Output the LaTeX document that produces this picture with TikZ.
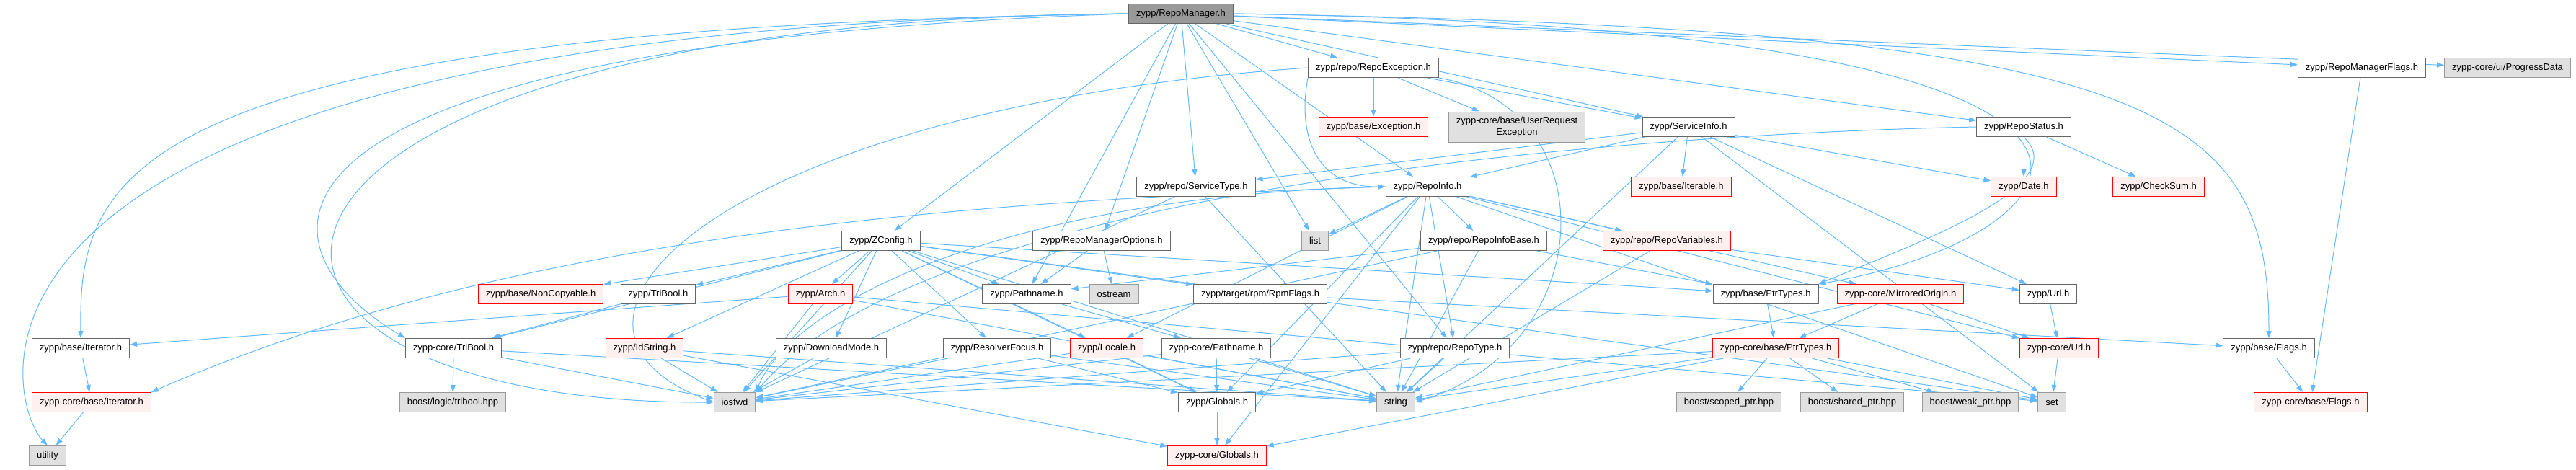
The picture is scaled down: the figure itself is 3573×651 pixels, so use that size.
\documentclass[tikz,border=0pt]{standalone}
\usepackage{fontspec}
\setmainfont{Liberation Sans}
\usetikzlibrary{arrows.meta,backgrounds}
\definecolor{edgeblue}{HTML}{63B8FF}
\definecolor{boxline}{HTML}{666666}
\definecolor{extfill}{HTML}{E0E0E0}
\definecolor{extline}{HTML}{999999}
\definecolor{redfill}{HTML}{FFF0F0}
\definecolor{rootfill}{HTML}{999999}
\begin{document}
\begin{tikzpicture}[x=1pt,y=1pt,
    file/.style={draw=boxline,fill=white,line width=1pt,inner xsep=10.5pt,inner ysep=0pt,minimum height=27pt,font=\fontsize{13}{15.6}\selectfont},
    trunc/.style={file,draw=red,fill=redfill},
    ext/.style={file,draw=extline,fill=extfill},
    root/.style={file,fill=rootfill},
    dep/.style={edgeblue,line width=1pt,-{Triangle[length=10pt,width=7pt]}}]
    \useasboundingbox (0,0) rectangle (3573,-651);
    \node[root] (R) at (1638,-19) {zypp/RepoManager.h};
    \node[file] (RE) at (1905,-94) {zypp/repo/RepoException.h};
    \node[file] (RMF) at (3276,-94) {zypp/RepoManagerFlags.h};
    \node[ext] (PD) at (3478,-94) {zypp-core/ui/ProgressData};
    \node[file] (SI) at (2342,-176) {zypp/ServiceInfo.h};
    \node[trunc] (EXC) at (1905,-176) {zypp/base/Exception.h};
    \node[ext,align=center,minimum height=42pt] (URE) at (2104,-176) {zypp-core/base/UserRequest\\Exception};
    \node[file] (RS) at (2807,-176) {zypp/RepoStatus.h};
    \node[file] (ST) at (1659,-259) {zypp/repo/ServiceType.h};
    \node[file] (RI) at (1980,-259) {zypp/RepoInfo.h};
    \node[trunc] (ITB) at (2332,-259) {zypp/base/Iterable.h};
    \node[trunc] (DATE) at (2807,-259) {zypp/Date.h};
    \node[trunc] (CS) at (2994,-259) {zypp/CheckSum.h};
    \node[file] (ZC) at (1222,-334) {zypp/ZConfig.h};
    \node[file] (RMO) at (1528,-334) {zypp/RepoManagerOptions.h};
    \node[ext] (LIST) at (1824,-334) {list};
    \node[file] (RIB) at (2058,-334) {zypp/repo/RepoInfoBase.h};
    \node[trunc] (RV) at (2312,-334) {zypp/repo/RepoVariables.h};
    \node[trunc] (NC) at (750,-408) {zypp/base/NonCopyable.h};
    \node[file] (TB) at (913,-408) {zypp/TriBool.h};
    \node[trunc] (ARCH) at (1138,-408) {zypp/Arch.h};
    \node[file] (PN) at (1424,-408) {zypp/Pathname.h};
    \node[ext] (OS) at (1545,-408) {ostream};
    \node[file] (RPM) at (1748,-408) {zypp/target/rpm/RpmFlags.h};
    \node[file] (PT) at (2449,-408) {zypp/base/PtrTypes.h};
    \node[trunc] (MO) at (2636,-408) {zypp-core/MirroredOrigin.h};
    \node[file] (URL) at (2841,-408) {zypp/Url.h};
    \node[file] (IT) at (112,-483) {zypp/base/Iterator.h};
    \node[file] (CTB) at (629,-483) {zypp-core/TriBool.h};
    \node[trunc] (IDS) at (894,-483) {zypp/IdString.h};
    \node[file] (DM) at (1153,-483) {zypp/DownloadMode.h};
    \node[file] (RF) at (1383,-483) {zypp/ResolverFocus.h};
    \node[trunc] (LOC) at (1535,-483) {zypp/Locale.h};
    \node[file] (CPN) at (1687,-483) {zypp-core/Pathname.h};
    \node[file] (RT) at (2018,-483) {zypp/repo/RepoType.h};
    \node[trunc] (CPT) at (2463,-483) {zypp-core/base/PtrTypes.h};
    \node[trunc] (CURL) at (2856,-483) {zypp-core/Url.h};
    \node[file] (FL) at (3147,-483) {zypp/base/Flags.h};
    \node[trunc] (CIT) at (127,-558) {zypp-core/base/Iterator.h};
    \node[ext] (BTB) at (628,-558) {boost/logic/tribool.hpp};
    \node[ext] (IOS) at (1019,-558) {iosfwd};
    \node[file] (GL) at (1688,-558) {zypp/Globals.h};
    \node[ext] (STR) at (1936,-558) {string};
    \node[ext] (SP) at (2398,-558) {boost/scoped\_ptr.hpp};
    \node[ext] (SHP) at (2569,-558) {boost/shared\_ptr.hpp};
    \node[ext] (WP) at (2733,-558) {boost/weak\_ptr.hpp};
    \node[ext] (SET) at (2846,-558) {set};
    \node[trunc] (CFL) at (3205,-558) {zypp-core/base/Flags.h};
    \node[ext] (UT) at (66,-632) {utility};
    \node[trunc] (CGL) at (1688,-632) {zypp-core/Globals.h};
    \begin{scope}[on background layer]
    \foreach \a/\b in {R/ZC, R/PN, R/RMO, R/ST, R/LIST, R/RI, R/RE, R/SI, R/RS, R/RMF, R/PD, R/RT,
        RE/EXC, RE/URE, RE/SI, SI/ITB, SI/RI, SI/ST, SI/DATE, SI/URL, SI/SET, SI/STR,
        RS/DATE, RS/CS, ST/IOS, ST/STR,
        RI/LIST, RI/RIB, RI/RV, RI/MO, RI/RT, RI/LOC, RI/CURL, RI/SET, RI/STR, RI/GL, RI/CGL,
        ZC/NC, ZC/TB, ZC/ARCH, ZC/PN, ZC/RPM, ZC/IDS, ZC/DM, ZC/RF, ZC/LOC, ZC/CTB, ZC/PT, ZC/IOS, ZC/SET, ZC/STR, ZC/GL,
        RMO/PN, RMO/OS, RIB/PN, RIB/PT, RIB/IOS, RIB/STR, RV/STR, RV/URL,
        TB/CTB, ARCH/IT, ARCH/IOS, ARCH/STR, ARCH/SET, PN/CPN, RPM/FL, PT/CPT,
        MO/CPT, MO/CURL, MO/STR, URL/CURL, CTB/BTB, CTB/IOS, CTB/STR,
        IDS/IOS, IDS/STR, IDS/CGL, DM/IOS, RF/IOS, RF/STR, RF/GL,
        LOC/IOS, LOC/STR, LOC/GL, CPN/GL, CPN/IOS, CPN/STR, RT/IOS, RT/STR, RT/GL,
        CPT/SP, CPT/SHP, CPT/WP, CPT/STR, CPT/IOS, CPT/SET, CPT/CGL, CURL/SET,
        FL/CFL, RMF/CFL, IT/CIT, CIT/UT, GL/CGL}
        \draw[dep] (\a) -- (\b);
    \draw[dep] (R.west) .. controls (-150,-40) and (10,-560) .. (UT.north);
    \draw[dep] (R.west) .. controls (150,-40) and (110,-250) .. (IT.north);
    \draw[dep] (R.west) .. controls (220,-30) and (200,-560) .. (IOS.west);
    \draw[dep] (R.west) .. controls (330,-60) and (330,-330) .. (CTB.north west);
    \draw[dep] (R.east) .. controls (3000,-40) and (3147,-150) .. (FL.north);
    \draw[dep] (R.east) .. controls (3150,-40) and (2900,-330) .. (PT.north east);
    \draw[dep] (RE.south west) .. controls (1800,-180) and (1820,-260) .. (RI.west);
    \draw[dep] (RE.west) .. controls (1000,-150) and (700,-450) .. (IOS.west);
    \draw[dep] (RE.south east) .. controls (2230,-150) and (2220,-480) .. (STR.east);
    \draw[dep] (RS.south) .. controls (2880,-260) and (2650,-340) .. (PT.north east);
    \draw[dep] (RS.west) .. controls (2300,-185) and (1300,-250) .. (IOS.north east);
    \draw[dep] (RI.west) .. controls (1300,-280) and (700,-330) .. (CIT.north east);
    \draw[dep] (RI.west) .. controls (1400,-270) and (1100,-420) .. (IOS.north east);
    \end{scope}
\end{tikzpicture}
\end{document}
